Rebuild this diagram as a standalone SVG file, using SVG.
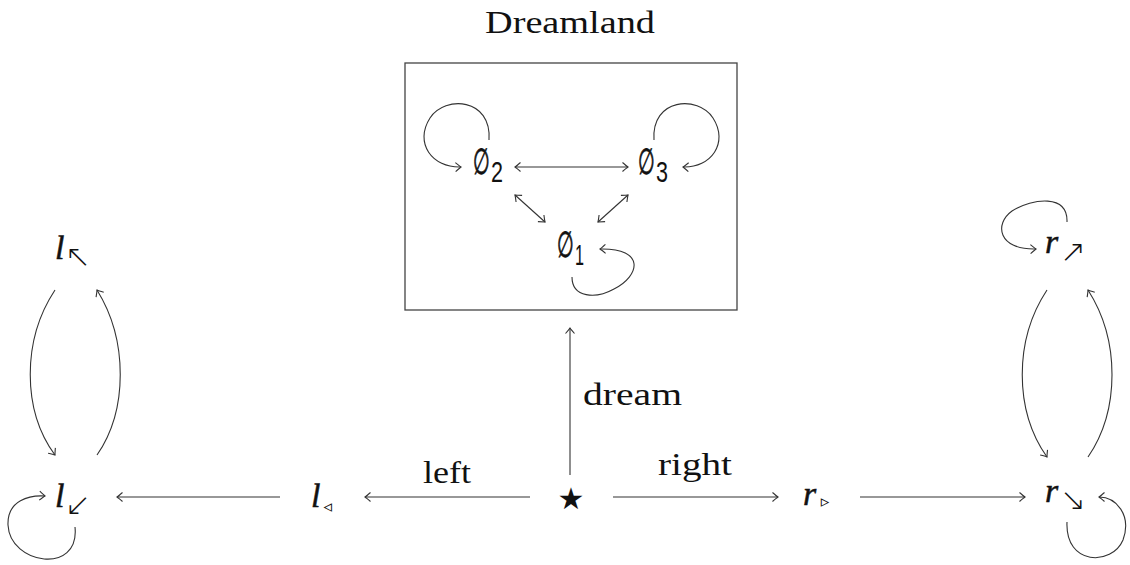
<svg xmlns="http://www.w3.org/2000/svg" width="1130" height="565" viewBox="0 0 1130 565">
<style>
.serif{font-family:'Liberation Serif','Times New Roman',serif;fill:#111}
.math{font-family:'Liberation Serif','Times New Roman',serif;font-style:italic;font-size:34px;fill:#111;stroke:#111;stroke-width:0.5}
.sym{font-family:'DejaVu Sans',sans-serif;fill:#111}
.arr{font-family:'DejaVu Sans',sans-serif;font-size:31px;font-weight:200;fill:#111;text-anchor:middle}
.tri{font-family:'DejaVu Sans',sans-serif;font-size:17px;fill:#111;text-anchor:middle}
.empty{font-family:'DejaVu Sans','Noto Sans',sans-serif;font-size:36px;fill:#111;stroke:#111;stroke-width:0.8}
.sub{font-family:'Liberation Sans','DejaVu Sans',sans-serif;font-size:29px;fill:#111}
.c{fill:none;stroke:#333;stroke-width:1.1}
</style>
<defs>
<marker id="ah" viewBox="-7 -6 9 12" refX="0" refY="0" markerWidth="9" markerHeight="12" orient="auto-start-reverse" markerUnits="userSpaceOnUse">
<path d="M-5.5,-4.5 Q-1.5,-1 0,0 Q-1.5,1 -5.5,4.5" fill="none" stroke="#333" stroke-width="1.1"/>
</marker>
</defs>
<rect x="0" y="0" width="1130" height="565" fill="#fff"/>

<g id="dreamland">
<rect x="405" y="63" width="332" height="247" fill="none" stroke="#444" stroke-width="1.3"/>
<text class="serif" x="570" y="33" font-size="31" text-anchor="middle" textLength="170" lengthAdjust="spacingAndGlyphs">Dreamland</text>
</g>

<g id="e2"><text class="empty" transform="translate(473,174) scale(0.53,1)">∅</text><text class="sub" x="491" y="182" textLength="12" lengthAdjust="spacingAndGlyphs">2</text></g>
<g id="e3"><text class="empty" transform="translate(638,174) scale(0.53,1)">∅</text><text class="sub" x="656" y="182" textLength="12" lengthAdjust="spacingAndGlyphs">3</text></g>
<g id="e1"><text class="empty" transform="translate(557,257) scale(0.53,1)">∅</text><text class="sub" x="575" y="265" textLength="9" lengthAdjust="spacingAndGlyphs">1</text></g>

<g id="star"><text class="sym" x="571" y="509" font-size="30" text-anchor="middle">★</text></g>
<g id="l-tri"><text class="math" x="311" y="507">l</text><text class="tri" x="327.5" y="512">◃</text></g>
<g id="r-tri"><text class="math" x="803" y="505">r</text><text class="tri" x="825" y="507">▹</text></g>
<g id="l-nw"><text class="math" x="55" y="259">l</text><text class="arr" x="78" y="267">↖</text></g>
<g id="l-sw"><text class="math" x="55" y="507">l</text><text class="arr" x="78" y="515">↙</text></g>
<g id="r-ne"><text class="math" x="1045" y="253">r</text><text class="arr" x="1073" y="262">↗</text></g>
<g id="r-se"><text class="math" x="1045" y="502">r</text><text class="arr" x="1073" y="510">↘</text></g>

<g id="labels">
<text class="serif" x="447" y="483" font-size="31" text-anchor="middle" textLength="48" lengthAdjust="spacingAndGlyphs">left</text>
<text class="serif" x="695" y="475" font-size="31" text-anchor="middle" textLength="74" lengthAdjust="spacingAndGlyphs">right</text>
<text class="serif" x="583" y="405" font-size="31" textLength="99" lengthAdjust="spacingAndGlyphs">dream</text>
</g>

<g id="connectors">
<path class="c" d="M515,167 L628,167" marker-start="url(#ah)" marker-end="url(#ah)"/>
<path class="c" d="M515,195 L545,222" marker-start="url(#ah)" marker-end="url(#ah)"/>
<path class="c" d="M628,195 L598,222" marker-start="url(#ah)" marker-end="url(#ah)"/>
<path class="c" d="M489,140 C492,98 445,95 430,118 C414,143 432,168 461,167" marker-end="url(#ah)"/>
<path class="c" d="M654,140 C651,98 698,95 713,118 C729,143 711,168 683,167" marker-end="url(#ah)"/>
<path class="c" d="M572,277 C572,298 596,299 614,289 C640,276 646,248 600,249" marker-end="url(#ah)"/>
<path class="c" d="M570,475 L570,328" marker-end="url(#ah)"/>
<path class="c" d="M530,497 L365,497" marker-end="url(#ah)"/>
<path class="c" d="M613,497 L778,497" marker-end="url(#ah)"/>
<path class="c" d="M280,497 L117,497" marker-end="url(#ah)"/>
<path class="c" d="M860,497 L1025,497" marker-end="url(#ah)"/>
<path class="c" d="M55,290 C22,340 22,410 55,455" marker-end="url(#ah)"/>
<path class="c" d="M97,455 C128,410 128,340 97,290" marker-end="url(#ah)"/>
<path class="c" d="M75,527 C80,575 10,565 8,525 C7,500 30,495 45,496" marker-end="url(#ah)"/>
<path class="c" d="M1047,290 C1014,340 1014,410 1047,457" marker-end="url(#ah)"/>
<path class="c" d="M1088,457 C1120,410 1120,340 1088,290" marker-end="url(#ah)"/>
<path class="c" d="M1067,222 C1068,194 1033,198 1012,211 C994,224 998,250 1036,249" marker-end="url(#ah)"/>
<path class="c" d="M1067,522 C1065,566 1112,566 1123,540 C1132,515 1116,497 1099,497" marker-end="url(#ah)"/>
</g>
</svg>
